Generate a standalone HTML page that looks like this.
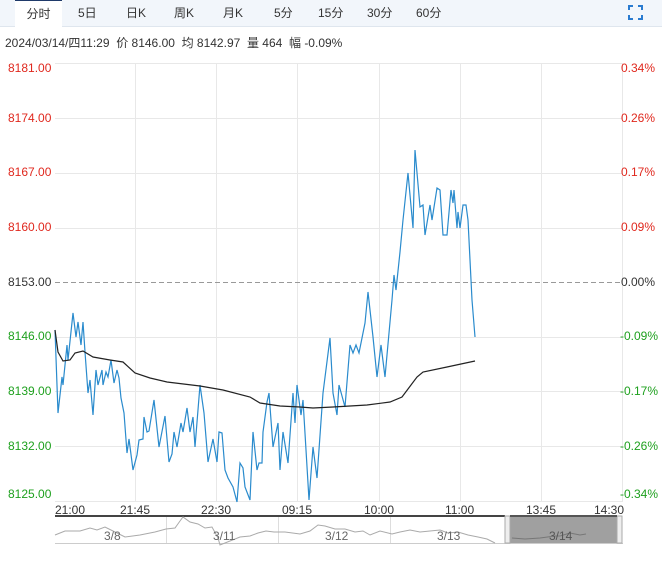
<!DOCTYPE html>
<html><head><meta charset="utf-8"><style>
body{margin:0;background:#fff;font-family:"Liberation Sans","Noto Sans CJK SC",sans-serif;}
.wrap{position:relative;width:662px;height:564px;overflow:hidden;}
.tabs{position:absolute;left:0;top:0;width:662px;height:26px;background:#f2f6fb;border-bottom:1px solid #dfe6ee;}
.tab{position:absolute;top:0;height:26px;line-height:26px;font-size:12px;color:#333;}
.act{left:15px;width:47px;background:#fff;border-top:1px solid #1f3a6a;height:27px;text-align:center;box-sizing:border-box}
.info{position:absolute;left:5px;top:34px;font-size:12px;color:#333;}
</style></head><body><div class="wrap">
<div class="tabs">
<div class="tab act">分时</div>
<div class="tab" style="left:78px">5日</div>
<div class="tab" style="left:126px">日K</div>
<div class="tab" style="left:174px">周K</div>
<div class="tab" style="left:223px">月K</div>
<div class="tab" style="left:274px">5分</div>
<div class="tab" style="left:318px">15分</div>
<div class="tab" style="left:367px">30分</div>
<div class="tab" style="left:416px">60分</div>
<svg style="position:absolute;left:628px;top:5px" width="15" height="15"><path d="M1 5V1H5M10 1H14V5M14 10V14H10M5 14H1V10" stroke="#2a7bd0" stroke-width="2" fill="none"/></svg>
</div>
<div class="info">2024/03/14/四11:29&nbsp; 价 8146.00&nbsp; 均 8142.97&nbsp; 量 464&nbsp; 幅 -0.09%</div>
<svg style="position:absolute;left:0;top:0" width="662" height="564" font-family="Liberation Sans, sans-serif" font-size="12">
<g stroke="#e8e8e8" stroke-width="1">
<line x1="55" y1="63.5" x2="623" y2="63.5"/><line x1="55" y1="118.5" x2="623" y2="118.5"/><line x1="55" y1="173.5" x2="623" y2="173.5"/><line x1="55" y1="228.5" x2="623" y2="228.5"/><line x1="55" y1="337.5" x2="623" y2="337.5"/><line x1="55" y1="391.5" x2="623" y2="391.5"/><line x1="55" y1="446.5" x2="623" y2="446.5"/><line x1="55" y1="501.5" x2="623" y2="501.5"/>
<line x1="135.5" y1="63" x2="135.5" y2="501"/><line x1="216.5" y1="63" x2="216.5" y2="501"/><line x1="297.5" y1="63" x2="297.5" y2="501"/><line x1="379.5" y1="63" x2="379.5" y2="501"/><line x1="460.5" y1="63" x2="460.5" y2="501"/><line x1="541.5" y1="63" x2="541.5" y2="501"/><line x1="622.5" y1="63" x2="622.5" y2="501"/>
</g>
<line x1="55" y1="282.5" x2="623" y2="282.5" stroke="#999" stroke-dasharray="5,3"/>
<g fill="#e0281e"><text x="8" y="72">8181.00</text><text x="8" y="122">8174.00</text><text x="8" y="176">8167.00</text><text x="8" y="231">8160.00</text></g>
<g fill="#e0281e" text-anchor="end"><text x="655" y="72">0.34%</text><text x="655" y="122">0.26%</text><text x="655" y="176">0.17%</text><text x="655" y="231">0.09%</text></g>
<text x="8" y="286" fill="#333">8153.00</text><text x="655" y="286" fill="#333" text-anchor="end">0.00%</text>
<g fill="#1ea01e"><text x="8" y="340">8146.00</text><text x="8" y="395">8139.00</text><text x="8" y="450">8132.00</text><text x="8" y="498">8125.00</text></g>
<g fill="#1ea01e" text-anchor="end"><text x="658" y="340">-0.09%</text><text x="658" y="395">-0.17%</text><text x="658" y="450">-0.26%</text><text x="658" y="498">-0.34%</text></g>
<polyline fill="none" stroke="#2a8bcd" stroke-width="1.2" points="55,330 58,413 62,377 63,385 67,345 68,360 73,313 76,337 78,322 81,345 83,322 85,352 88,393 90,380 93,415 96,370 98,385 102,370 103,385 106,372 108,377 111,360 114,383 117,370 119,378 121,398 124,413 127,453 129,439 133,470 137,455 139,440 143,439 144,417 147,432 149,431 154,400 159,447 165,416 169,462 172,454 174,432 177,447 181,423 183,432 187,408 190,432 193,417 195,447 200,385 204,413 208,462 213,439 217,462 219,432 222,433 225,470 228,478 233,487 237,502 240,463 243,468 245,487 250,500 253,432 257,470 259,463 262,463 263,432 267,402 269,393 273,447 278,423 280,470 283,432 288,463 293,393 295,423 297,385 301,415 303,400 309,500 313,447 317,478 323,393 330,338 333,393 337,415 339,385 345,407 350,345 353,353 356,345 359,353 365,323 368,292 373,337 377,377 381,345 385,377 392,300 394,275 396,290 400,252 403,220 408,173 413,228 415,150 420,207 423,205 425,235 430,205 432,220 437,188 440,190 443,235 447,235 451,190 453,203 454,190 457,228 458,212 460,228 463,205 466,205 468,220 472,300 475,337"/>
<polyline fill="none" stroke="#222" stroke-width="1.2" points="55,330 58,352 63,361 70,360 75,353 83,351 93,357 110,360 123,362 135,373 150,378 167,382 200,386 223,390 250,397 260,403 280,406 300,407 313,408 333,407 367,405 390,402 402,397 417,377 423,372 447,367 475,361"/>
<g fill="#333" font-size="12"><text x="55" y="514">21:00</text><text x="120" y="514">21:45</text><text x="201" y="514">22:30</text><text x="282" y="514">09:15</text><text x="364" y="514">10:00</text><text x="445" y="514">11:00</text><text x="526" y="514">13:45</text><text x="594" y="514">14:30</text></g>
<line x1="55" y1="516" x2="505" y2="516" stroke="#444" stroke-width="2"/>
<line x1="55" y1="543.5" x2="623" y2="543.5" stroke="#ccc"/>
<g stroke="#ddd"><line x1="166.5" y1="517" x2="166.5" y2="543"/><line x1="278.5" y1="517" x2="278.5" y2="543"/><line x1="390.5" y1="517" x2="390.5" y2="543"/></g>
<rect x="510" y="516" width="107" height="27" fill="#a0a0a0"/>
<rect x="505" y="516" width="5" height="27" fill="#eee" stroke="#aaa"/>
<rect x="617" y="516" width="5" height="27" fill="#eee" stroke="#aaa"/>
<line x1="510" y1="516" x2="617" y2="516" stroke="#555" stroke-width="2"/>
<polyline fill="none" stroke="#aaa" stroke-width="1" points="55,535 65,531 80,531 90,528 97,530 105,527 115,532 125,537 140,535 155,532 166,529 175,528 180,521 183,517 190,522 198,524 205,528 212,527 218,538 220,545 230,541 240,537 250,536 258,533 266,531 274,532 285,532 300,534 310,531 318,525 325,526 335,529 345,529 355,532 363,531 370,535 380,531 392,534 400,532 410,530 420,532 430,531 440,530 448,533 458,532 468,535 478,537 487,539 495,543"/>
<polyline fill="none" stroke="#777" stroke-width="1" points="512,538 525,539 540,538 555,536 560,536 570,533 580,535 586,534"/>
<g fill="#666" font-size="12"><text x="104" y="540">3/8</text><text x="213" y="540">3/11</text><text x="325" y="540">3/12</text><text x="437" y="540">3/13</text><text x="549" y="540" fill="#555">3/14</text></g>
</svg>
</div></body></html>
